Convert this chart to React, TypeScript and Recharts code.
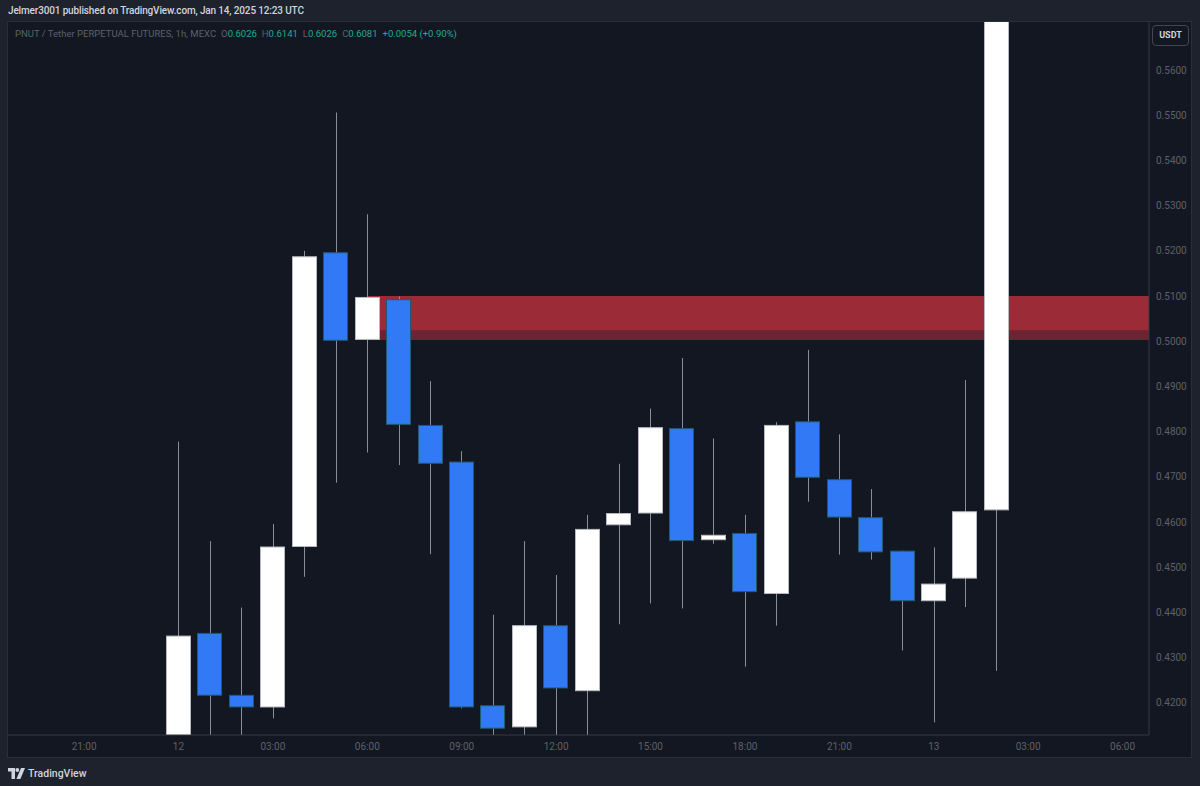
import { ComposedChart, Bar, XAxis, YAxis, ReferenceArea } from "recharts";

// hours after 00:00 on the 12th (1h candles)
const hours = [0, 1, 2, 3, 4, 5, 6, 7, 8, 9, 10, 11, 12, 13, 14, 15, 16, 17, 18, 19, 20, 21, 22, 23, 24, 25, 26, 27];
const opens = [0.4105, 0.4355, 0.4218, 0.4190, 0.4545, 0.5197, 0.5003, 0.5093, 0.4815, 0.4734, 0.4195, 0.4146, 0.4372, 0.4226, 0.4593, 0.4619, 0.4808, 0.4560, 0.4576, 0.4441, 0.4823, 0.4695, 0.4611, 0.4537, 0.4425, 0.4475, 0.4626, 0.6026];
const highs = [0.4778, 0.4558, 0.4411, 0.4596, 0.5200, 0.5506, 0.5281, 0.5099, 0.4912, 0.4757, 0.4395, 0.4558, 0.4483, 0.4616, 0.4729, 0.4851, 0.4963, 0.4785, 0.4616, 0.4821, 0.4981, 0.4794, 0.4673, 0.4537, 0.4544, 0.4914, 0.6090, 0.6141];
const lows = [0.4090, 0.4100, 0.4110, 0.4166, 0.4479, 0.4687, 0.4754, 0.4726, 0.4529, 0.4188, 0.4100, 0.4105, 0.4110, 0.4115, 0.4374, 0.4420, 0.4409, 0.4552, 0.4280, 0.4371, 0.4645, 0.4528, 0.4517, 0.4316, 0.4157, 0.4412, 0.4271, 0.6026];
const closes = [0.4349, 0.4216, 0.4190, 0.4546, 0.5188, 0.5001, 0.5098, 0.4815, 0.4729, 0.4190, 0.4143, 0.4372, 0.4232, 0.4585, 0.4620, 0.4810, 0.4558, 0.4572, 0.4445, 0.4815, 0.4698, 0.4610, 0.4533, 0.4425, 0.4464, 0.4624, 0.6027, 0.6081];

const tickHours = [-3, 0, 3, 6, 9, 12, 15, 18, 21, 24, 27, 30];
const tickLabels = ["21:00", "12", "03:00", "06:00", "09:00", "12:00", "15:00", "18:00", "21:00", "13", "03:00", "06:00"];
const priceTicks = [0.42, 0.43, 0.44, 0.45, 0.46, 0.47, 0.48, 0.49, 0.5, 0.51, 0.52, 0.53, 0.54, 0.55, 0.56];

// supply zone drawn from the 06:00 candle
const zoneStart = 6;
const zoneTop = 0.51;
const zoneMid = 0.5023;
const zoneBottom = 0.5003;

const candles = hours.map((t, i) => ({
  t,
  open: opens[i],
  high: highs[i],
  low: lows[i],
  close: closes[i],
  range: [lows[i], highs[i]],
}));

const xDomain = [-5.418, 30.84];
const yDomain = [0.41291, 0.57062];

const muted = "#5d606b";
const font = "Roboto, 'Liberation Sans', sans-serif";

function Candle(props: any) {
  const { x, y, width, height, payload } = props;
  const { open, close, high, low } = payload;
  const k = height / (high - low);
  const up = close >= open;
  const top = y + (high - Math.max(open, close)) * k;
  const bottom = y + (high - Math.min(open, close)) * k;
  const cx = Math.round(x + width / 2) + 0.5;
  const bx = Math.round(x);
  return (
    <g>
      <line x1={cx} x2={cx} y1={y} y2={y + height} stroke="#8a8d96" strokeWidth={1} />
      <rect
        x={bx + 0.5}
        y={top + 0.5}
        width={width - 1}
        height={Math.max(bottom - top - 1, 1)}
        fill={up ? "#ffffff" : "#3179f5"}
        stroke={up ? "#b8bac2" : "#1f5a72"}
        strokeWidth={1}
      />
    </g>
  );
}

function Logo() {
  return (
    <svg width={17} height={11} viewBox="0 0 17 11">
      <path d="M0 0h7v11H3.5V3.5H0z" fill="#d1d4dc" />
      <circle cx={9.3} cy={2} r={1.9} fill="#d1d4dc" />
      <path d="M13 0h4l-4.6 11H8.4z" fill="#d1d4dc" />
    </svg>
  );
}

export default function App() {
  return (
    <div
      style={{
        position: "absolute",
        left: 0,
        top: 0,
        width: 1200,
        height: 786,
        background: "#1e222d",
        overflow: "hidden",
        fontFamily: font,
      }}
    >
      <div
        style={{
          position: "absolute",
          left: 8,
          top: 5,
          fontSize: 10,
          fontWeight: 500,
          letterSpacing: -0.15,
          color: "#d1d4dc",
          whiteSpace: "nowrap",
        }}
      >
        Jelmer3001 published on TradingView.com, Jan 14, 2025 12:23 UTC
      </div>

      <div
        style={{
          position: "absolute",
          left: 8,
          top: 22,
          width: 1183,
          height: 735,
          background: "#131722",
          boxShadow: "0 0 0 1px #2a2e39",
        }}
      >
        <ComposedChart width={1183} height={735} data={candles} margin={{ top: 0, right: 0, bottom: 0, left: 0 }}>
          <XAxis
            dataKey="t"
            type="number"
            domain={xDomain}
            allowDataOverflow
            ticks={tickHours}
            interval={0}
            tickFormatter={(v: number) => tickLabels[tickHours.indexOf(v)]}
            height={22}
            tickLine={false}
            tickSize={0}
            tickMargin={8}
            axisLine={{ stroke: "#363a45" }}
            tick={{ fill: muted, fontSize: 10, fontFamily: font }}
          />
          <YAxis
            orientation="right"
            type="number"
            domain={yDomain}
            allowDataOverflow
            ticks={priceTicks}
            interval={0}
            tickFormatter={(v: number) => v.toFixed(4)}
            width={42}
            tickLine={false}
            tickSize={0}
            tickMargin={7}
            axisLine={{ stroke: "#363a45" }}
            tick={{ fill: muted, fontSize: 10, fontFamily: font }}
          />
          <ReferenceArea x1={zoneStart} x2={xDomain[1]} y1={zoneMid} y2={zoneTop} fill="#9b2b37" fillOpacity={1} stroke="none" ifOverflow="hidden" />
          <ReferenceArea x1={zoneStart} x2={xDomain[1]} y1={zoneBottom} y2={zoneMid} fill="#6b2432" fillOpacity={1} stroke="none" ifOverflow="hidden" />
          <Bar dataKey="range" barSize={25} shape={Candle} isAnimationActive={false} />
        </ComposedChart>

        <div style={{ position: "absolute", left: 7, top: 6, fontSize: 9.5, whiteSpace: "nowrap", color: muted }}>
          <span>PNUT / Tether PERPETUAL FUTURES, 1h, MEXC</span>
          <span style={{ marginLeft: 5 }}>O</span>
          <span style={{ color: "#22ab94" }}>0.6026</span>
          <span style={{ marginLeft: 5 }}>H</span>
          <span style={{ color: "#22ab94" }}>0.6141</span>
          <span style={{ marginLeft: 5 }}>L</span>
          <span style={{ color: "#22ab94" }}>0.6026</span>
          <span style={{ marginLeft: 5 }}>C</span>
          <span style={{ color: "#22ab94" }}>0.6081</span>
          <span style={{ marginLeft: 5, color: "#22ab94" }}>+0.0054 (+0.90%)</span>
        </div>

        <div
          style={{
            position: "absolute",
            left: 1144,
            top: 3,
            width: 35,
            height: 19,
            border: "1px solid #434651",
            borderRadius: 4,
            background: "#131722",
            color: "#d1d4dc",
            fontSize: 9,
            fontWeight: 700,
            lineHeight: "19px",
            textAlign: "center",
          }}
        >
          USDT
        </div>
      </div>

      <div style={{ position: "absolute", left: 8, top: 767, display: "flex", alignItems: "center", gap: 3 }}>
        <Logo />
        <span style={{ fontSize: 10.5, color: "#d1d4dc", fontWeight: 500 }}>TradingView</span>
      </div>
    </div>
  );
}
